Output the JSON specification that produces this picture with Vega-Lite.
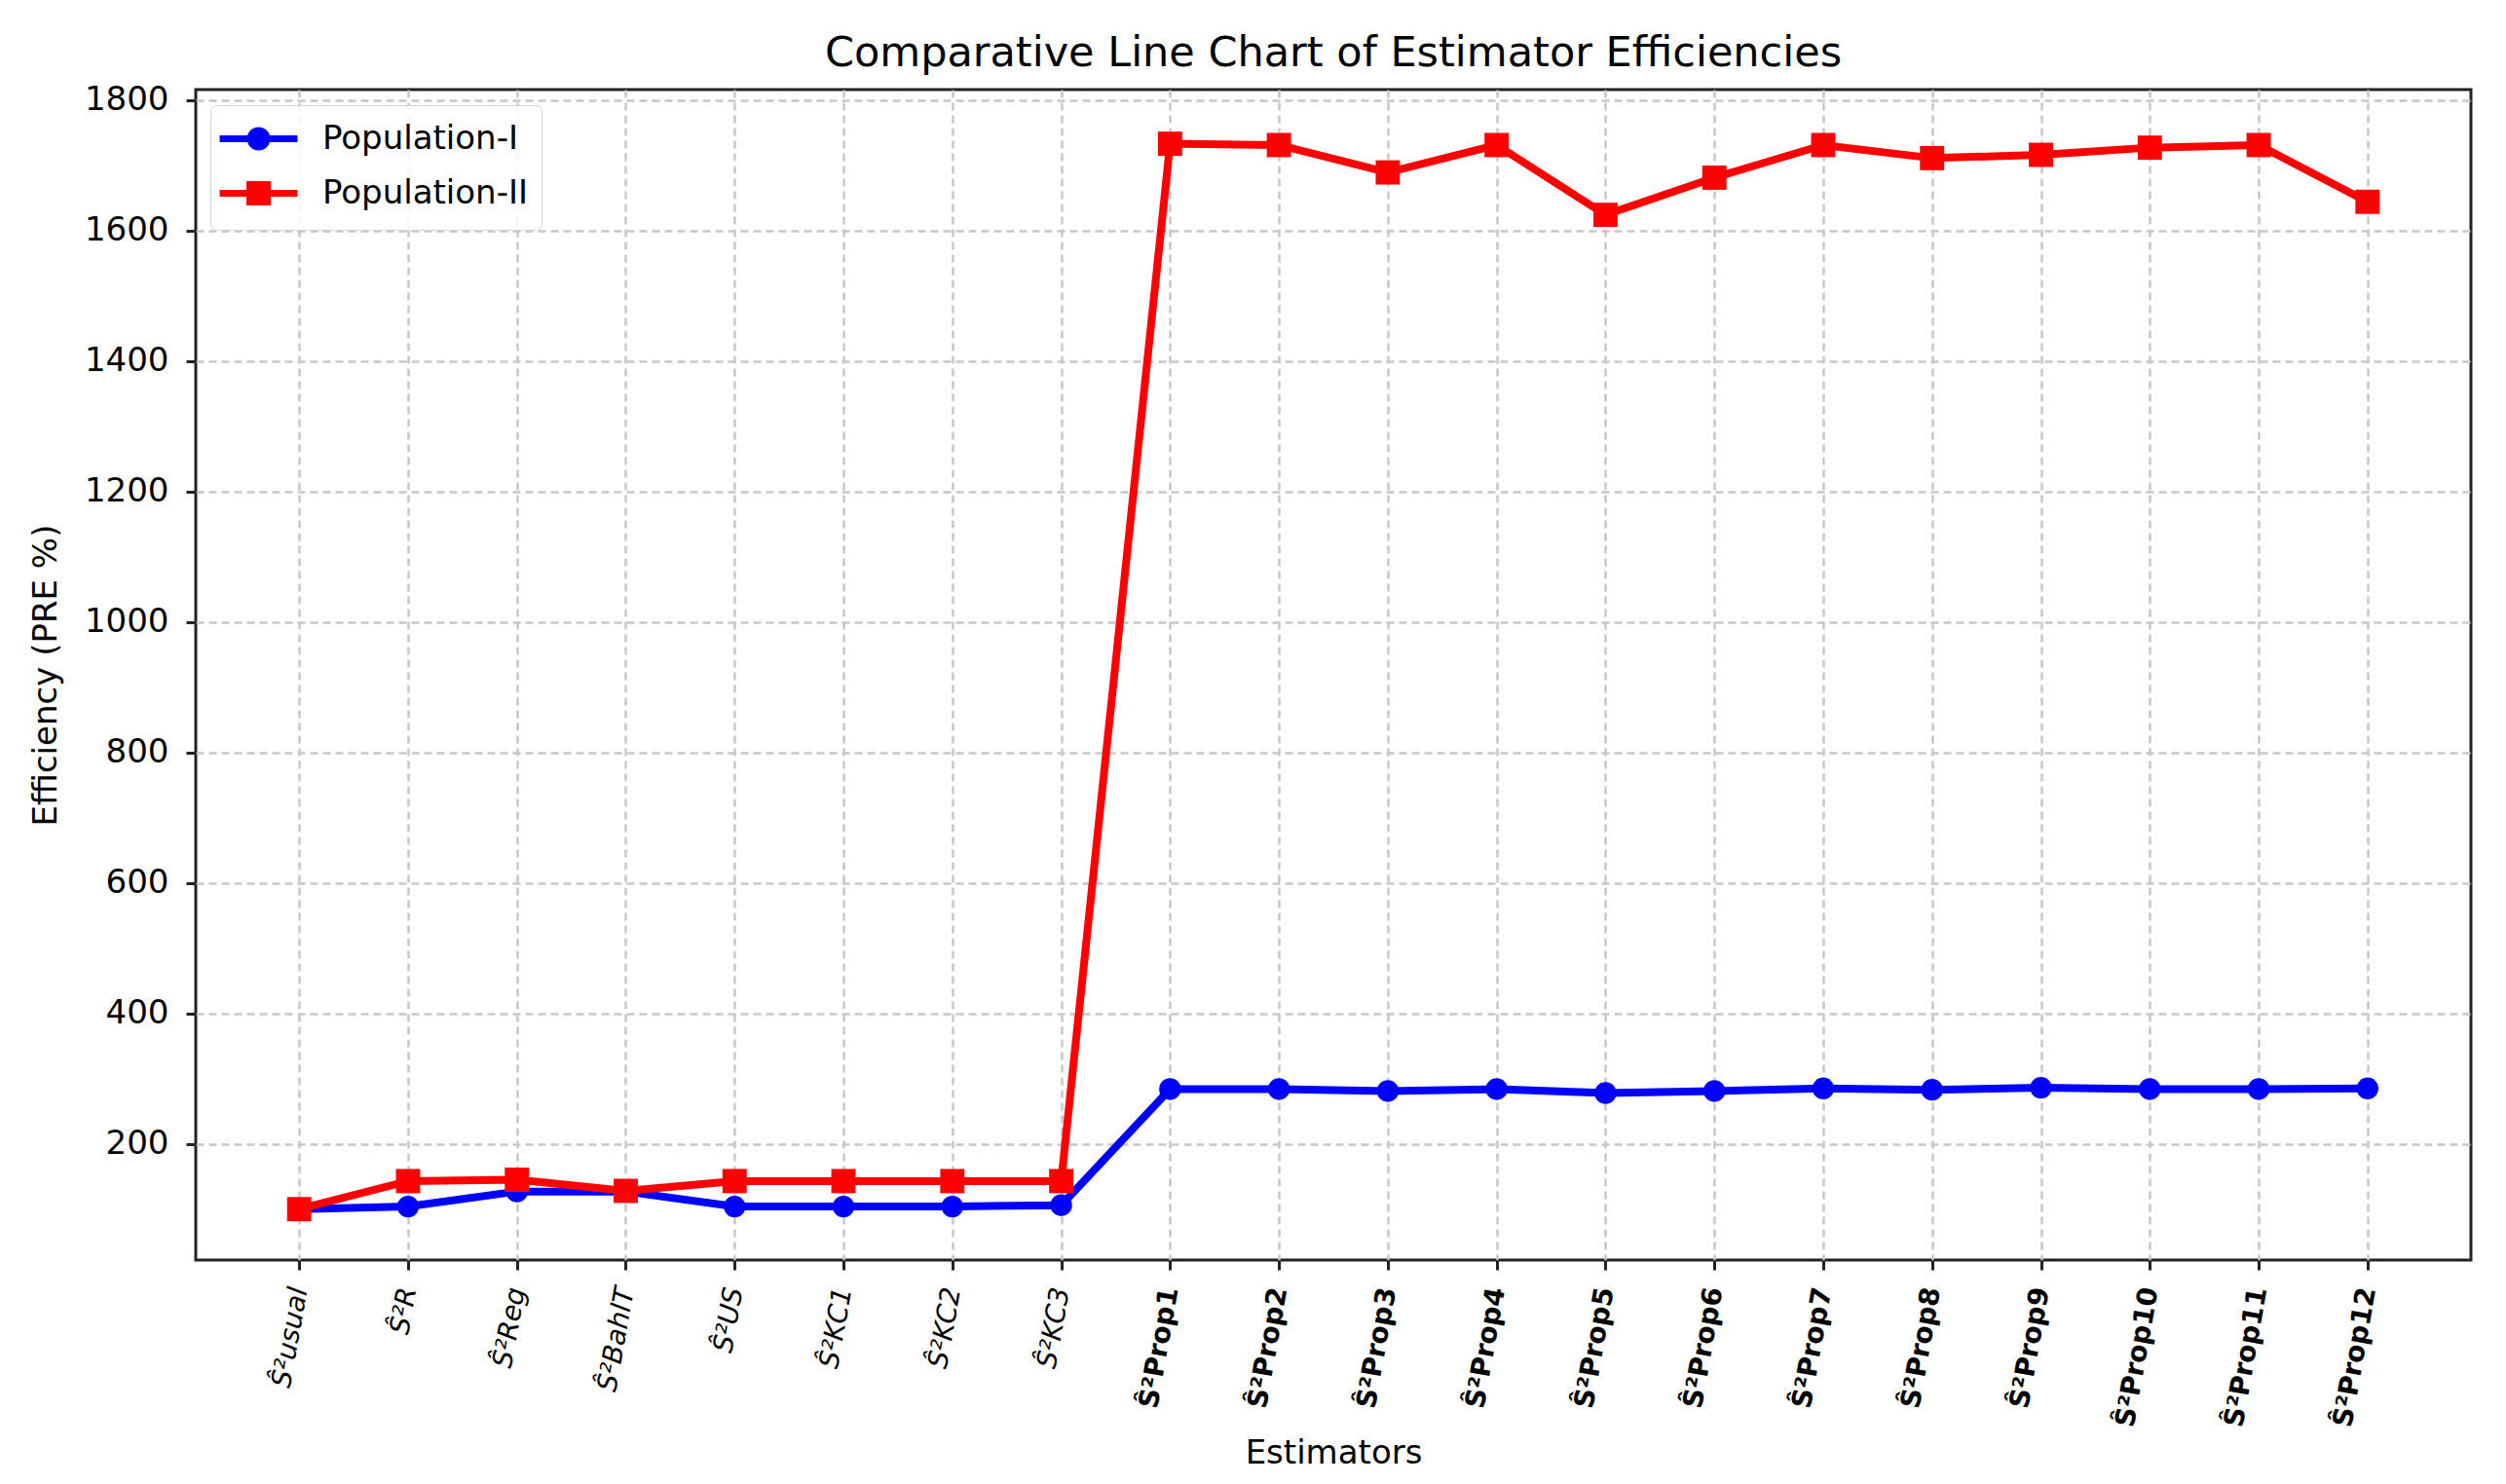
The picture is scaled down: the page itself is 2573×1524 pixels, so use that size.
{
  "$schema": "https://vega.github.io/schema/vega-lite/v6.json",
  "width": 2336,
  "height": 1202,
  "autosize": {"type": "none"},
  "padding": {"left": 201, "top": 92, "right": 36, "bottom": 230},
  "background": "white",
  "title": {"text": "Comparative Line Chart of Estimator Efficiencies", "fontSize": 43, "font": "DejaVu Sans", "fontWeight": "normal", "color": "#000000", "offset": 9},
  "config": {"view": {"stroke": "#222222", "strokeWidth": 3}, "font": "DejaVu Sans"},
  "data": {"values": [
    {"estimator": "Ŝ²usual", "population": "Population-I", "pre": 100},
    {"estimator": "Ŝ²R", "population": "Population-I", "pre": 104},
    {"estimator": "Ŝ²Reg", "population": "Population-I", "pre": 127},
    {"estimator": "Ŝ²BahlT", "population": "Population-I", "pre": 127},
    {"estimator": "Ŝ²US", "population": "Population-I", "pre": 104},
    {"estimator": "Ŝ²KC1", "population": "Population-I", "pre": 104},
    {"estimator": "Ŝ²KC2", "population": "Population-I", "pre": 104},
    {"estimator": "Ŝ²KC3", "population": "Population-I", "pre": 106},
    {"estimator": "Ŝ²Prop1", "population": "Population-I", "pre": 284},
    {"estimator": "Ŝ²Prop2", "population": "Population-I", "pre": 284},
    {"estimator": "Ŝ²Prop3", "population": "Population-I", "pre": 281},
    {"estimator": "Ŝ²Prop4", "population": "Population-I", "pre": 284},
    {"estimator": "Ŝ²Prop5", "population": "Population-I", "pre": 278},
    {"estimator": "Ŝ²Prop6", "population": "Population-I", "pre": 281},
    {"estimator": "Ŝ²Prop7", "population": "Population-I", "pre": 285},
    {"estimator": "Ŝ²Prop8", "population": "Population-I", "pre": 283},
    {"estimator": "Ŝ²Prop9", "population": "Population-I", "pre": 286},
    {"estimator": "Ŝ²Prop10", "population": "Population-I", "pre": 284},
    {"estimator": "Ŝ²Prop11", "population": "Population-I", "pre": 284},
    {"estimator": "Ŝ²Prop12", "population": "Population-I", "pre": 285},
    {"estimator": "Ŝ²usual", "population": "Population-II", "pre": 100},
    {"estimator": "Ŝ²R", "population": "Population-II", "pre": 143},
    {"estimator": "Ŝ²Reg", "population": "Population-II", "pre": 145},
    {"estimator": "Ŝ²BahlT", "population": "Population-II", "pre": 128},
    {"estimator": "Ŝ²US", "population": "Population-II", "pre": 143},
    {"estimator": "Ŝ²KC1", "population": "Population-II", "pre": 143},
    {"estimator": "Ŝ²KC2", "population": "Population-II", "pre": 143},
    {"estimator": "Ŝ²KC3", "population": "Population-II", "pre": 143},
    {"estimator": "Ŝ²Prop1", "population": "Population-II", "pre": 1733},
    {"estimator": "Ŝ²Prop2", "population": "Population-II", "pre": 1731},
    {"estimator": "Ŝ²Prop3", "population": "Population-II", "pre": 1689},
    {"estimator": "Ŝ²Prop4", "population": "Population-II", "pre": 1731},
    {"estimator": "Ŝ²Prop5", "population": "Population-II", "pre": 1624},
    {"estimator": "Ŝ²Prop6", "population": "Population-II", "pre": 1681},
    {"estimator": "Ŝ²Prop7", "population": "Population-II", "pre": 1731},
    {"estimator": "Ŝ²Prop8", "population": "Population-II", "pre": 1711},
    {"estimator": "Ŝ²Prop9", "population": "Population-II", "pre": 1716},
    {"estimator": "Ŝ²Prop10", "population": "Population-II", "pre": 1727},
    {"estimator": "Ŝ²Prop11", "population": "Population-II", "pre": 1731},
    {"estimator": "Ŝ²Prop12", "population": "Population-II", "pre": 1644}
  ]},
  "encoding": {
    "x": {
      "field": "estimator",
      "type": "nominal",
      "sort": ["Ŝ²usual", "Ŝ²R", "Ŝ²Reg", "Ŝ²BahlT", "Ŝ²US", "Ŝ²KC1", "Ŝ²KC2", "Ŝ²KC3", "Ŝ²Prop1", "Ŝ²Prop2", "Ŝ²Prop3", "Ŝ²Prop4", "Ŝ²Prop5", "Ŝ²Prop6", "Ŝ²Prop7", "Ŝ²Prop8", "Ŝ²Prop9", "Ŝ²Prop10", "Ŝ²Prop11", "Ŝ²Prop12"],
      "scale": {"type": "point", "padding": 0.95},
      "axis": {
        "title": "Estimators",
        "titleFontSize": 34,
        "titleFontWeight": "normal",
        "titleColor": "#000000",
        "titleFont": "DejaVu Sans",
        "titlePadding": 8,
        "labelAngle": -80,
        "labelFontSize": 28,
        "labelFont": "DejaVu Sans",
        "labelColor": "#000000",
        "labelPadding": 18,
        "labelFontWeight": {"condition": {"test": "indexof(datum.value, 'Prop') >= 0", "value": "bold"}, "value": "normal"},
        "labelFontStyle": {"condition": {"test": "indexof(datum.value, 'Prop') < 0", "value": "italic"}, "value": "normal"},
        "domain": false,
        "tickSize": 10,
        "tickWidth": 3,
        "tickColor": "#222222",
        "grid": true,
        "gridDash": [8, 5],
        "gridColor": "#c8c8c8",
        "gridWidth": 2.5
      }
    },
    "y": {
      "field": "pre",
      "type": "quantitative",
      "scale": {"domain": [22, 1816], "nice": false, "zero": false},
      "axis": {
        "title": "Efficiency (PRE %)",
        "titleFontSize": 34,
        "titleFontWeight": "normal",
        "titleColor": "#000000",
        "titleFont": "DejaVu Sans",
        "titlePadding": 22,
        "values": [200, 400, 600, 800, 1000, 1200, 1400, 1600, 1800],
        "format": "d",
        "labelFontSize": 34,
        "labelFont": "DejaVu Sans",
        "labelColor": "#000000",
        "labelPadding": 18,
        "domain": false,
        "tickSize": 10,
        "tickWidth": 3,
        "tickColor": "#222222",
        "grid": true,
        "gridDash": [8, 5],
        "gridColor": "#c8c8c8",
        "gridWidth": 2.5
      }
    },
    "color": {
      "field": "population",
      "type": "nominal",
      "scale": {"domain": ["Population-I", "Population-II"], "range": ["#0000ff", "#ff0000"]},
      "legend": {
        "title": null,
        "orient": "none",
        "legendX": 15,
        "legendY": 16,
        "labelFontSize": 34,
        "labelFont": "DejaVu Sans",
        "labelColor": "#000000",
        "labelLimit": 500,
        "symbolSize": 1156,
        "symbolStrokeWidth": 7,
        "symbolOffset": 15,
        "labelOffset": 45,
        "rowPadding": 10,
        "padding": 14,
        "strokeColor": "#d5d5d5",
        "fillColor": "rgba(255,255,255,0.85)",
        "cornerRadius": 6,
        "encode": {
          "symbols": {"update": {
            "shape": {"signal": "datum.value === 'Population-I' ? 'M-2.35,0H2.35M-0.5,0A0.5,0.5,0,1,0,0.5,0A0.5,0.5,0,1,0,-0.5,0Z' : 'M-2.35,0H2.35M-0.53,-0.53H0.53V0.53H-0.53Z'"},
            "fill": {"signal": "datum.value === 'Population-I' ? '#0000ff' : '#ff0000'"},
            "stroke": {"signal": "datum.value === 'Population-I' ? '#0000ff' : '#ff0000'"},
            "strokeWidth": {"value": 7},
            "opacity": {"value": 1},
            "fillOpacity": {"value": 1},
            "strokeOpacity": {"value": 1}
          }}
        }
      }
    }
  },
  "layer": [
    {"mark": {"type": "line", "strokeWidth": 8}},
    {
      "mark": {"type": "point", "filled": true, "opacity": 1},
      "encoding": {
        "shape": {"condition": {"test": "datum.population === 'Population-II'", "value": "square"}, "value": "circle"},
        "size": {"condition": {"test": "datum.population === 'Population-II'", "value": 620}, "value": 500}
      }
    }
  ]
}
